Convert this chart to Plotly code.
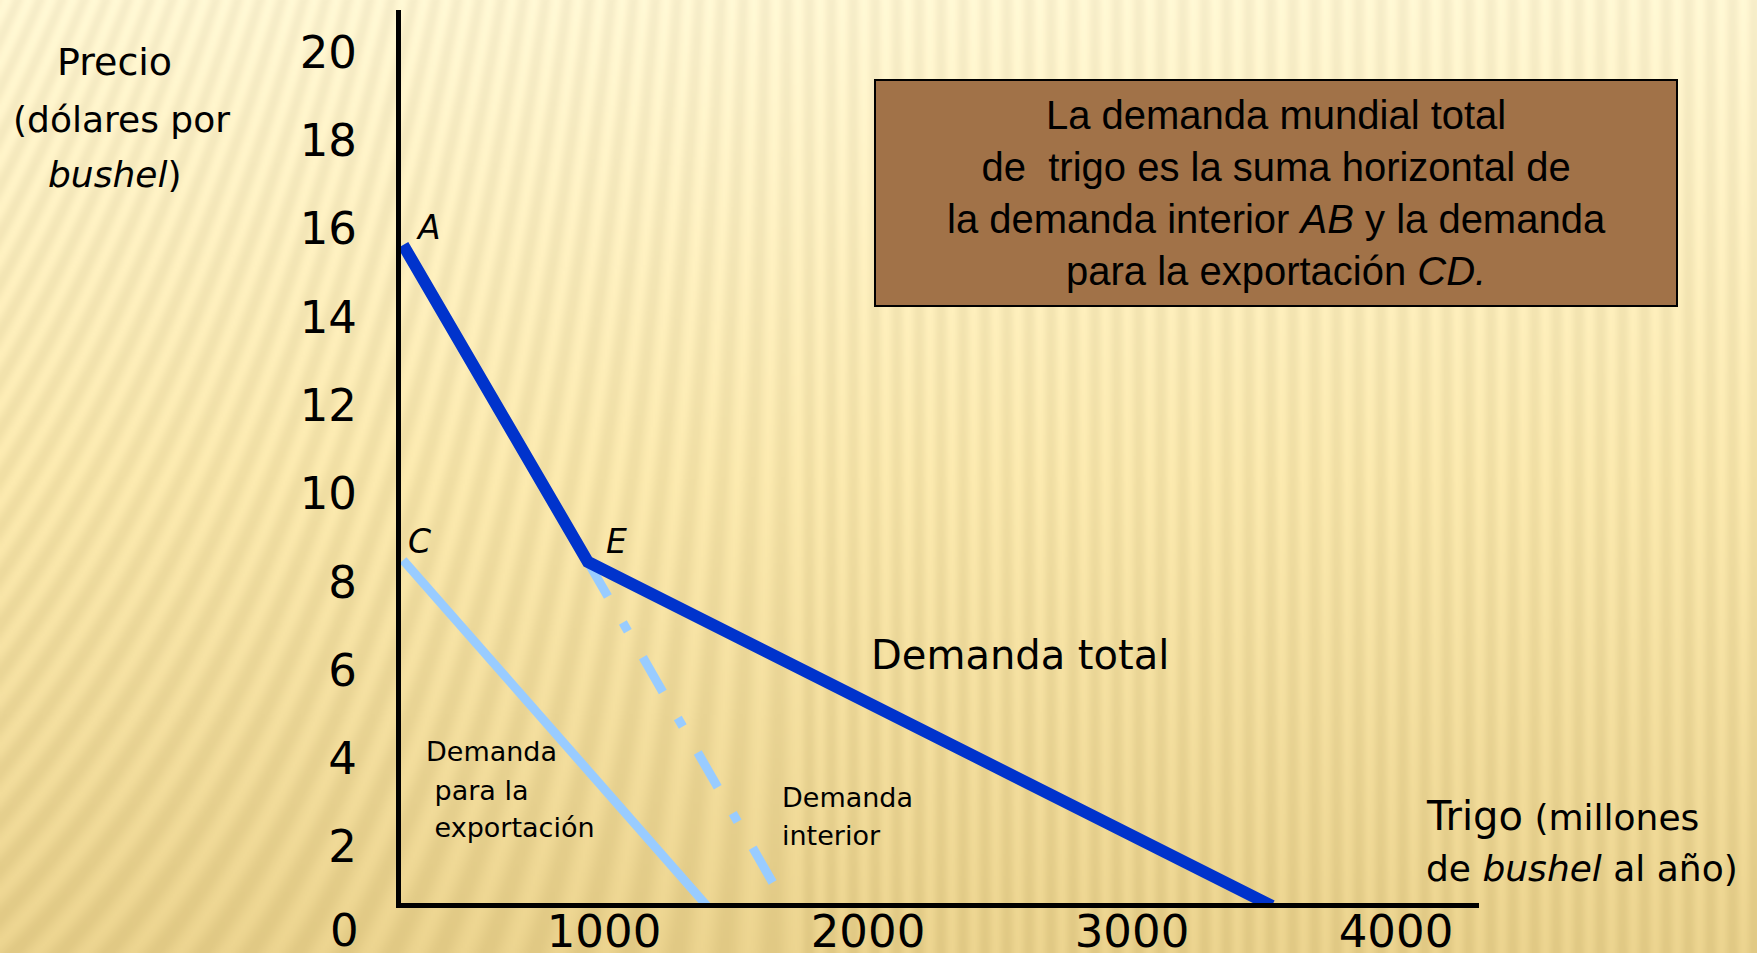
import base64, struct, zlib
import numpy as np
import plotly.graph_objects as go

# ---------------- data ----------------
price_ticks = [2, 4, 6, 8, 10, 12, 14, 16, 18, 20]
qty_ticks = [1000, 2000, 3000, 4000]

# total world demand A -> E -> F
total_qty = [239, 939, 3530]
total_price = [15.63, 8.45, 0.66]

# domestic demand A -> (E) -> B
domestic_qty = [239, 939, 1686]
domestic_price = [15.63, 8.45, 0.70]

# export demand C -> D
export_qty = [239, 1390]
export_price = [8.49, 0.66]

# ---------------- layout geometry ----------------
W, H = 1757, 953
L, T, PW, PH = 401, 10, 1078, 893
x_range = [(L - 340) / 0.264, (L + PW - 340) / 0.264]
y_range = [(935 - (T + PH)) / 44.15, (935 - T) / 44.15]


def px(xp):
    return (xp - L) / PW


def py(yp):
    return (T + PH - yp) / PH


# ---------------- background texture (style only) ----------------
def make_bg(w, h, scale):
    X = np.arange(w)[None, :] * scale
    Y = np.arange(h)[:, None] * scale
    t = Y / H + 0 * X
    top = np.array([253, 244, 208], float)
    mid = np.array([247, 229, 170], float)
    bot = np.array([231, 207, 138], float)
    t3 = t[..., None]
    col = np.where(t3 < 0.5, top + (mid - top) * (t3 / 0.5), mid + (bot - mid) * ((t3 - 0.5) / 0.5))
    k = 0.45 * np.clip(1 - X / 800.0, 0, 1)
    phase = 2 * np.pi * (X + k * Y) / 22.0
    s = np.sin(phase)
    col = col + 6.0 * s[..., None]
    return np.clip(col, 0, 255).astype(np.uint8)


def to_png(arr):
    h, w, _ = arr.shape
    a = arr.astype(np.int16)
    d = a.copy()
    d[:, 1:, :] = a[:, 1:, :] - a[:, :-1, :]
    d = (d % 256).astype(np.uint8).reshape(h, -1)
    raw = np.concatenate([np.ones((h, 1), np.uint8), d], axis=1)
    comp = zlib.compress(raw.tobytes(), 9)

    def chunk(tag, data):
        return struct.pack(">I", len(data)) + tag + data + struct.pack(">I", zlib.crc32(tag + data) & 0xFFFFFFFF)

    return (b"\x89PNG\r\n\x1a\n" + chunk(b"IHDR", struct.pack(">IIBBBBB", w, h, 8, 2, 0, 0, 0))
            + chunk(b"IDAT", comp) + chunk(b"IEND", b""))


bg = make_bg(W // 2 + 1, H // 2 + 1, 2)
bg_uri = "data:image/png;base64," + base64.b64encode(to_png(bg)).decode()

DARK = "rgb(0,51,204)"
LIGHT = "rgb(153,204,255)"
FONT = "DejaVu Sans"

fig = go.Figure()

# domestic demand: solid part under total line, dash-dot below E
fig.add_trace(go.Scatter(x=domestic_qty[:2], y=domestic_price[:2], mode="lines",
                         line=dict(color=LIGHT, width=9), hoverinfo="skip", showlegend=False))
fig.add_trace(go.Scatter(x=domestic_qty[1:], y=domestic_price[1:], mode="lines",
                         line=dict(color=LIGHT, width=9, dash="40px,30px,10px,30px"),
                         hoverinfo="skip", showlegend=False))
# export demand
fig.add_trace(go.Scatter(x=export_qty, y=export_price, mode="lines",
                         line=dict(color=LIGHT, width=9), hoverinfo="skip", showlegend=False))
# total demand
fig.add_trace(go.Scatter(x=total_qty, y=total_price, mode="lines",
                         line=dict(color=DARK, width=12), hoverinfo="skip", showlegend=False))

fig.add_layout_image(dict(source=bg_uri, xref="paper", yref="paper", x=-L / PW, y=1 + T / PH,
                          sizex=W / PW, sizey=H / PH, sizing="stretch", layer="below",
                          xanchor="left", yanchor="top"))

# description box
fig.add_shape(type="rect", xref="paper", yref="paper", x0=px(875), x1=px(1677), y0=py(306), y1=py(80),
              fillcolor="rgb(161,114,72)", line=dict(color="black", width=2), layer="above")

ann = []


def text(s, x, y, size, xanchor="center", family=FONT, color="black"):
    ann.append(dict(text=s, x=px(x), y=py(y), xref="paper", yref="paper", showarrow=False,
                    xanchor=xanchor, yanchor="middle", font=dict(family=family, size=size, color=color)))


text("La demanda mundial total<br>de  trigo es la suma horizontal de<br>"
     "la demanda interior <i>AB</i> y la demanda<br>para la exportación <i>CD.</i>",
     1276, 193, 40, family="Liberation Sans")

text("Precio", 114, 62, 38)
text("(dólares por", 121, 120, 36)
text("<i>bushel</i>)", 114, 174, 36)
text("0", 344, 930, 45)
text("Demanda total", 1020, 655, 40)
text("Demanda", 424, 751, 27, "left")
text("\u00a0para la", 424, 790, 27, "left")
text("\u00a0exportación", 424, 827, 27, "left")
text("Demanda", 780, 797, 27, "left")
text("interior", 780, 835, 27, "left")
text("<span style='font-size:40px'>Trigo</span> (millones", 1424, 816, 36, "left")
text("de <i>bushel</i> al año)", 1424, 868, 36, "left")

# point labels, attached to the data points
pts = [("A", total_qty[0], total_price[0], 25, 17),
       ("E", total_qty[1], total_price[1], 29, 20),
       ("F", total_qty[2], total_price[2], 11, 35),
       ("C", export_qty[0], export_price[0], 16, 19),
       ("D", export_qty[1], export_price[1], 16, 19),
       ("B", domestic_qty[2], domestic_price[2], 23, 16)]
for name, xq, yq, dx, dy in pts:
    ann.append(dict(text=f"<i>{name}</i>", x=xq, y=yq, xref="x", yref="y", showarrow=False,
                    xshift=dx, yshift=dy, xanchor="center", yanchor="middle",
                    font=dict(family=FONT, size=33, color="black")))

fig.update_layout(
    template="none",
    width=W, height=H,
    margin=dict(l=L, r=W - L - PW, t=T, b=H - T - PH, pad=0),
    paper_bgcolor="rgb(247,229,170)",
    plot_bgcolor="rgba(0,0,0,0)",
    showlegend=False,
    annotations=ann,
    xaxis=dict(range=x_range, showline=True, linecolor="black", linewidth=5, showgrid=False,
               zeroline=False, tickvals=qty_ticks, ticktext=[str(v) for v in qty_ticks], ticks="",
               ticklabelstandoff=-15,
               tickfont=dict(family=FONT, size=45, color="black"), automargin=False, fixedrange=True),
    yaxis=dict(range=y_range, showline=True, linecolor="black", linewidth=5, showgrid=False,
               zeroline=False, tickvals=price_ticks, ticktext=[str(v) for v in price_ticks], ticks="",
               ticklabelstandoff=30,
               tickfont=dict(family=FONT, size=45, color="black"), automargin=False, fixedrange=True),
)

fig.write_html("out.html", config={"displayModeBar": False},
               post_script="document.body.style.margin='0px';document.body.style.overflow='hidden';")
